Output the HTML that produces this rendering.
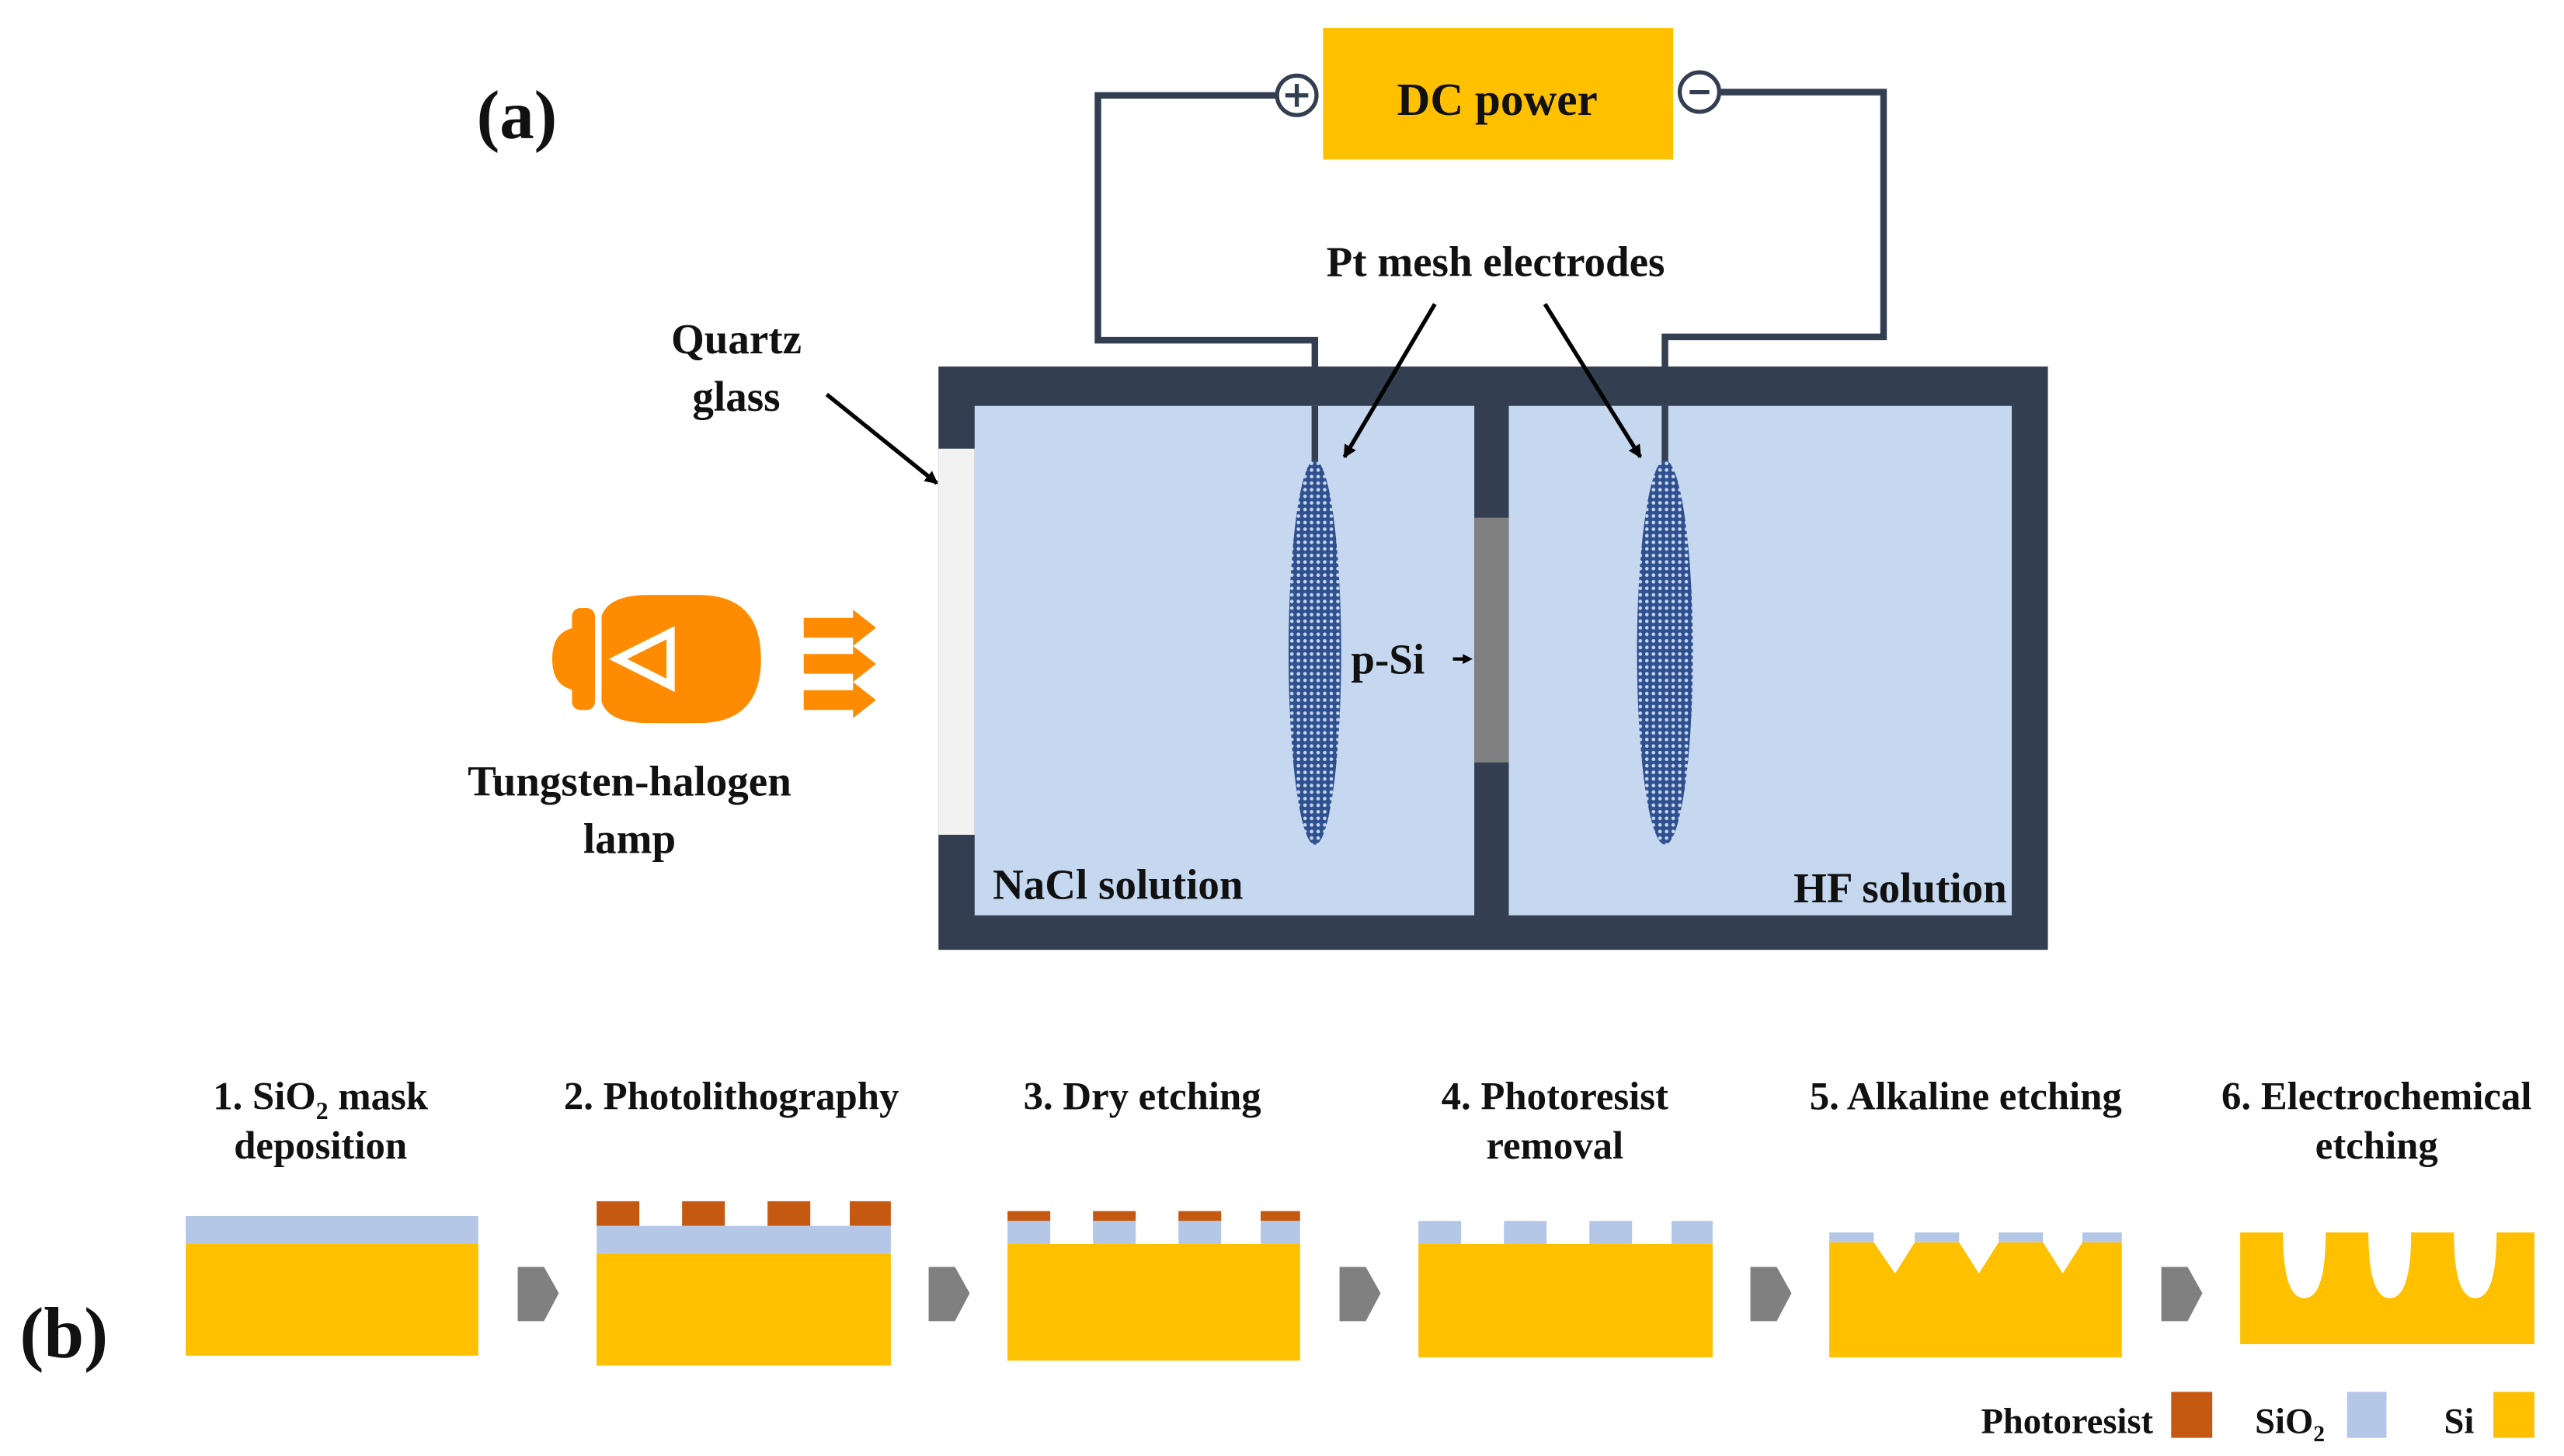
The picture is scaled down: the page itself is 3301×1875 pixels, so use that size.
<!DOCTYPE html>
<html><head><meta charset="utf-8"><style>
html,body{margin:0;padding:0;background:#fff}
svg{display:block}
text{font-family:"Liberation Serif","Times New Roman",serif;font-weight:bold;fill:#111}
</style></head><body>
<svg width="3301" height="1875" viewBox="0 0 1560 886" xmlns="http://www.w3.org/2000/svg" font-family="Liberation Serif, serif">
<defs>
<pattern id="mesh" width="4" height="4" patternUnits="userSpaceOnUse">
<rect width="4" height="4" fill="#2F4F8F"/><circle cx="2" cy="2" r="1.1" fill="#C5D8EF"/>
</pattern>
<marker id="ah" markerWidth="8" markerHeight="8" refX="7" refY="4" orient="auto" markerUnits="userSpaceOnUse"><path d="M0,0 L8,4 L0,8 Z" fill="#000"/></marker>
</defs>
<rect width="1560" height="886" fill="#fff"/>
<text x="290" y="84" font-size="42" font-family="Liberation Serif, serif">(a)</text>
<rect x="805" y="17" width="213" height="80" fill="#FFC000"/>
<text x="911" y="70" font-size="28" text-anchor="middle" font-family="Liberation Serif, serif">DC power</text>
<g fill="none" stroke="#333F50" stroke-width="4">
<path d="M777 58 H668 V207 H800 V280"/>
<path d="M1046 56 H1146 V205 H1013 V280"/>
</g>
<circle cx="789" cy="58" r="12" fill="#fff" stroke="#333F50" stroke-width="2.5"/>
<path d="M782 58 H796 M789 51 V65" stroke="#333F50" stroke-width="2.5"/>
<circle cx="1034" cy="56" r="12" fill="#fff" stroke="#333F50" stroke-width="2.5"/>
<path d="M1028 56 H1040" stroke="#333F50" stroke-width="2.5"/>
<rect x="571" y="223" width="675" height="355" fill="#333F50"/>
<rect x="593" y="247" width="304" height="310" fill="#C5D8EF"/>
<rect x="918" y="247" width="306" height="310" fill="#C5D8EF"/>
<rect x="897" y="315" width="21" height="149" fill="#808080"/>
<rect x="571" y="273" width="22" height="235" fill="#F2F2F2"/>
<line x1="800" y1="247" x2="800" y2="282" stroke="#333F50" stroke-width="4"/>
<line x1="1013" y1="247" x2="1013" y2="282" stroke="#333F50" stroke-width="4"/>
<ellipse cx="800" cy="397" rx="16" ry="117" fill="url(#mesh)"/>
<ellipse cx="1013" cy="397" rx="17" ry="117" fill="url(#mesh)"/>
<g font-family="Liberation Serif, serif">
<text x="910" y="168" font-size="26" text-anchor="middle">Pt mesh electrodes</text>
<text x="448" y="215" font-size="26" text-anchor="middle">Quartz</text>
<text x="448" y="250" font-size="26" text-anchor="middle">glass</text>
<text x="822" y="410" font-size="26">p-Si</text>
<text x="604" y="547" font-size="26">NaCl solution</text>
<text x="1221" y="549" font-size="26" text-anchor="end">HF solution</text>
<text x="383" y="484" font-size="26" text-anchor="middle">Tungsten-halogen</text>
<text x="383" y="519" font-size="26" text-anchor="middle">lamp</text>
</g>
<line x1="873" y1="185" x2="818" y2="278" stroke="#000" stroke-width="2.5" marker-end="url(#ah)"/>
<line x1="940" y1="185" x2="998" y2="278" stroke="#000" stroke-width="2.5" marker-end="url(#ah)"/>
<line x1="503" y1="240" x2="570" y2="294" stroke="#000" stroke-width="2.5" marker-end="url(#ah)"/>
<path d="M884 401 H892" stroke="#000" stroke-width="2"/><path d="M890 398 L896 401 L890 404 Z" fill="#000"/>
<g fill="#FF8C00">
<rect x="348" y="370" width="14" height="62" rx="5"/>
<path d="M350 382 Q336 384 336 401 Q336 418 350 420 Z"/>
<path d="M366 375 Q370 362 395 362 L425 362 Q463 362 463 401 Q463 440 425 440 L395 440 Q370 440 366 427 Z"/>
<path d="M489 376 H519 V371 L533 382 L519 393 V388 H489 Z"/>
<path d="M489 398 H519 V393 L533 404 L519 415 V410 H489 Z"/>
<path d="M489 420 H519 V415 L533 426 L519 437 V432 H489 Z"/>
</g>
<path d="M376 401 L408 385 L408 417 Z" fill="none" stroke="#fff" stroke-width="5"/>
<g font-family="Liberation Serif, serif">
<text x="12" y="826" font-size="44">(b)</text>
<g font-size="24" text-anchor="middle">
<text x="195" y="675">1. SiO<tspan font-size="15" dy="6">2</tspan><tspan dy="-6"> mask</tspan></text>
<text x="195" y="705">deposition</text>
<text x="445" y="675">2. Photolithography</text>
<text x="695" y="675">3. Dry etching</text>
<text x="946" y="675">4. Photoresist</text>
<text x="946" y="705">removal</text>
<text x="1196" y="675">5. Alkaline etching</text>
<text x="1446" y="675">6.  Electrochemical</text>
<text x="1446" y="705">etching</text>
</g>
<text x="1310" y="872" font-size="22" text-anchor="end">Photoresist</text>
<text x="1372" y="872" font-size="22">SiO<tspan font-size="14" dy="5">2</tspan></text>
<text x="1487" y="872" font-size="22">Si</text>
</g>
<rect x="113" y="740" width="178" height="17" fill="#B4C7E7"/>
<rect x="113" y="757" width="178" height="68" fill="#FFC000"/>
<g fill="#C65911"><rect x="363" y="731" width="26" height="15"/><rect x="415" y="731" width="26" height="15"/><rect x="467" y="731" width="26" height="15"/><rect x="517" y="731" width="25" height="15"/></g>
<rect x="363" y="746" width="179" height="17" fill="#B4C7E7"/>
<rect x="363" y="763" width="179" height="68" fill="#FFC000"/>
<g fill="#C65911"><rect x="613" y="737" width="26" height="6"/><rect x="665" y="737" width="26" height="6"/><rect x="717" y="737" width="26" height="6"/><rect x="767" y="737" width="24" height="6"/></g>
<g fill="#B4C7E7"><rect x="613" y="743" width="26" height="14"/><rect x="665" y="743" width="26" height="14"/><rect x="717" y="743" width="26" height="14"/><rect x="767" y="743" width="24" height="14"/></g>
<rect x="613" y="757" width="178" height="71" fill="#FFC000"/>
<g fill="#B4C7E7"><rect x="863" y="743" width="26" height="14"/><rect x="915" y="743" width="26" height="14"/><rect x="967" y="743" width="26" height="14"/><rect x="1017" y="743" width="25" height="14"/></g>
<rect x="863" y="757" width="179" height="69" fill="#FFC000"/>
<g fill="#B4C7E7"><rect x="1113" y="750" width="27" height="6"/><rect x="1165" y="750" width="27" height="6"/><rect x="1216" y="750" width="27" height="6"/><rect x="1267" y="750" width="24" height="6"/></g>
<path d="M1113 756 H1140 L1153 775 L1165 756 H1192 L1204 775 L1216 756 H1243 L1255 775 L1267 756 H1291 V826 H1113 Z" fill="#FFC000"/>
<path d="M1363 750 H1389 Q1389 790 1402 790 Q1415 790 1415 750 H1441 Q1441 790 1454 790 Q1467 790 1467 750 H1493 Q1493 790 1506 790 Q1519 790 1519 750 H1542 V818 H1363 Z" fill="#FFC000"/>
<g fill="#808080">
<path d="M315 771 H331 L340 787 L331 804 H315 Z"/>
<path d="M565 771 H581 L590 787 L581 804 H565 Z"/>
<path d="M815 771 H831 L840 787 L831 804 H815 Z"/>
<path d="M1065 771 H1081 L1090 787 L1081 804 H1065 Z"/>
<path d="M1315 771 H1331 L1340 787 L1331 804 H1315 Z"/>
</g>
<rect x="1321" y="847" width="25" height="28" fill="#C65911"/>
<rect x="1428" y="847" width="24" height="28" fill="#B4C7E7"/>
<rect x="1517" y="847" width="25" height="28" fill="#FFC000"/>
</svg>
</body></html>
